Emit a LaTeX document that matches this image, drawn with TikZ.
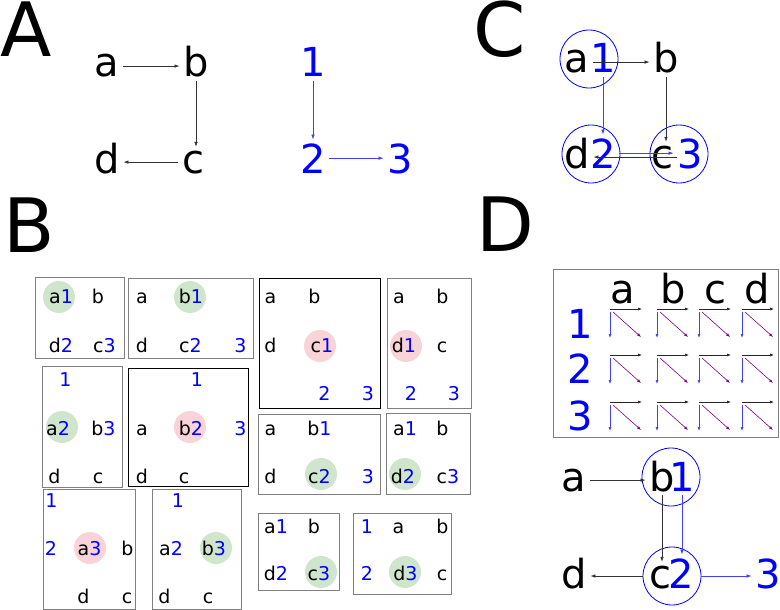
\documentclass[tikz,border=0pt]{standalone}
\usepackage{fontspec}
\setmainfont{DejaVu Sans}
\usetikzlibrary{arrows.meta}
\definecolor{gfill}{HTML}{CFE6CC}
\definecolor{rfill}{HTML}{F8D3D8}
\definecolor{bluearr}{HTML}{4040FF}
\definecolor{boxgray}{HTML}{808080}
\definecolor{purp}{HTML}{800080}
\begin{document}
\begin{tikzpicture}[x=1pt,y=-1pt,
 panel/.style={font=\fontsize{75}{75}\selectfont, anchor=base, inner sep=0pt},
 lt/.style={font=\fontsize{40}{40}\selectfont, anchor=base, inner sep=3.5pt},
 dg/.style={lt, text=blue},
 st/.style={font=\fontsize{19}{19}\selectfont, anchor=base, inner sep=0pt},
 sd/.style={st, text=blue},
 arr/.style={-{Latex[length=5pt,width=3.5pt]}, line width=0.7pt, draw=black!80},
 barr/.style={arr, draw=bluearr},
 marr/.style={-{Latex[length=4pt,width=3pt]}, line width=0.6pt, draw=black!85},
 mbarr/.style={marr, draw=bluearr},
 mparr/.style={marr, draw=purp},
 grp/.style={circle, draw=blue, line width=0.8pt, minimum size=58pt, inner sep=0pt},
 cell/.style={draw=boxgray, line width=0.8pt},
 cellk/.style={draw=black, line width=0.9pt},
 gdot/.style={circle, fill=gfill, minimum size=32pt, inner sep=0pt},
 rdot/.style={circle, fill=rfill, minimum size=32pt, inner sep=0pt},
]
\useasboundingbox (0,0) rectangle (780,610);

% ---------- panel labels
\node[panel] (LA) at (26,57) {A};
\node[panel] (LB) at (29,252) {B};
\node[panel] (LC) at (500,57) {C};
\node[panel] (LD) at (505,251) {D};

% ---------- panel A
\node[lt] (a) at (107,77) {a};
\node[lt] (b) at (196,77) {b};
\node[lt] (d) at (107,173) {d};
\node[lt] (c) at (193,173) {c};
\node[dg] (n1) at (313,77) {1};
\node[dg] (n2) at (313,173) {2};
\node[dg] (n3) at (400,173) {3};
\draw[arr] (a.east) -- (a.east -| b.west);
\draw[arr] (b.south) -- (b.south |- c.north);
\draw[arr] (c.west) -- (c.west -| d.east);
\draw[barr] (n1.south) -- (n2.north);
\draw[barr] (n2.east) -- (n2.east -| n3.west);

% ---------- panel C
\node[grp] (C1) at (589,59) {};
\node[grp] (C2) at (591,154) {};
\node[grp] (C3) at (679,154) {};
\node[lt] (ca) at (577,73) {a};
\node[dg] (c1) at (603,73) {1};
\node[lt] (cb) at (666,73) {b};
\node[lt] (cd) at (577,168) {d};
\node[dg] (c2) at (603,168) {2};
\node[lt] (cc) at (662,168) {c};
\node[dg] (c3) at (690,168) {3};
\draw[arr] (ca.east) -- (ca.east -| cb.west);
\draw[arr] (cb.south) -- (cb.south |- cc.north);
\draw[arr] (cc.east) -- (cc.east -| cd.east);
\draw[barr] (c1.south) -- (c2.north);
\draw[barr] (c2.east) -- (c2.east -| c3.west);

% ---------- panel B boxes
% box 1
\draw[cell] (35,277) rectangle (124,358);
\node[gdot] (g1) at (59,297) {};
\node[st] (b1p) at (61,303) {a\textcolor{blue}{1}};
\node[st] (b1b) at (98,303) {b};
\node[st] (b1d) at (61,352) {d\textcolor{blue}{2}};
\node[st] (b1c) at (104.5,352) {c\textcolor{blue}{3}};
% box 2
\draw[cell] (128,278) rectangle (253,358);
\node[gdot] (g2) at (190,297) {};
\node[st] (b2a) at (142,303) {a};
\node[st] (b2b) at (191,303) {b\textcolor{blue}{1}};
\node[st] (b2d) at (142,352) {d};
\node[st] (b2c) at (190.5,352) {c\textcolor{blue}{2}};
\node[sd] (b23) at (240.5,352) {3};
% box 3
\draw[cell] (42,366) rectangle (122,487);
\node[gdot] (g3) at (62,427) {};
\node[sd] (b31) at (65.5,386) {1};
\node[st] (b3a) at (58,435) {a\textcolor{blue}{2}};
\node[st] (b3b) at (103.5,435) {b\textcolor{blue}{3}};
\node[st] (b3d) at (54.5,483) {d};
\node[st] (b3c) at (98,483) {c};
% box 4
\draw[cellk] (128,368) rectangle (248,486);
\node[rdot] (r4) at (190,427) {};
\node[sd] (b41) at (197,386) {1};
\node[st] (b4a) at (142,435) {a};
\node[st] (b4b) at (191,435) {b\textcolor{blue}{2}};
\node[sd] (b43) at (240.5,435) {3};
\node[st] (b4d) at (142,483) {d};
\node[st] (b4c) at (184,483) {c};
% box 5
\draw[cellk] (259,278) rectangle (380,408);
\node[rdot] (r5) at (320,346) {};
\node[st] (b5a) at (270.5,303) {a};
\node[st] (b5b) at (314.5,303) {b};
\node[st] (b5d) at (270.5,352) {d};
\node[st] (b5c) at (322,352) {c\textcolor{blue}{1}};
\node[sd] (b52) at (324.5,400) {2};
\node[sd] (b53) at (368,400) {3};
% box 6
\draw[cell] (387,278) rectangle (471,408);
\node[rdot] (r6) at (406,346) {};
\node[st] (b6a) at (399,303) {a};
\node[st] (b6b) at (442.5,303) {b};
\node[st] (b6d) at (404,352) {d\textcolor{blue}{1}};
\node[st] (b6c) at (442,352) {c};
\node[sd] (b62) at (411,400) {2};
\node[sd] (b63) at (454,400) {3};
% box 7
\draw[cell] (258,414) rectangle (380,494);
\node[gdot] (g7) at (321,474) {};
\node[st] (b7a) at (270.5,435) {a};
\node[st] (b7b) at (319.5,435) {b\textcolor{blue}{1}};
\node[st] (b7d) at (270.5,483) {d};
\node[st] (b7c) at (319.5,483) {c\textcolor{blue}{2}};
\node[sd] (b73) at (368,483) {3};
% box 8
\draw[cell] (386,413) rectangle (470,494);
\node[gdot] (g8) at (405,474) {};
\node[st] (b8a) at (405,435) {a\textcolor{blue}{1}};
\node[st] (b8b) at (442.5,435) {b};
\node[st] (b8d) at (403,483) {d\textcolor{blue}{2}};
\node[st] (b8c) at (448,483) {c\textcolor{blue}{3}};
% box 9
\draw[cell] (43,489) rectangle (135,609);
\node[rdot] (r9) at (90,548) {};
\node[sd] (b91) at (51.5,507) {1};
\node[sd] (b92) at (51,555) {2};
\node[st] (b9a) at (89.5,555) {a\textcolor{blue}{3}};
\node[st] (b9b) at (127.5,555) {b};
\node[st] (b9d) at (83.5,603) {d};
\node[st] (b9c) at (127,603) {c};
% box 10
\draw[cell] (152,489) rectangle (241,609);
\node[gdot] (g10) at (216,548) {};
\node[sd] (b101) at (178,507) {1};
\node[st] (b10a) at (171,555) {a\textcolor{blue}{2}};
\node[st] (b10b) at (214,555) {b\textcolor{blue}{3}};
\node[st] (b10d) at (164.5,603) {d};
\node[st] (b10c) at (208,603) {c};
% box 11
\draw[cell] (258,513) rectangle (339,590);
\node[gdot] (g11) at (321,572) {};
\node[st] (b11a) at (276,533) {a\textcolor{blue}{1}};
\node[st] (b11b) at (314,533) {b};
\node[st] (b11d) at (276,580) {d\textcolor{blue}{2}};
\node[st] (b11c) at (319,580) {c\textcolor{blue}{3}};
% box 12
\draw[cell] (353,513) rectangle (451,594);
\node[gdot] (g12) at (405,572) {};
\node[sd] (b121) at (367,533) {1};
\node[st] (b12a) at (398.5,533) {a};
\node[st] (b12b) at (442.5,533) {b};
\node[sd] (b122) at (367,580) {2};
\node[st] (b12d) at (405.5,580) {d\textcolor{blue}{3}};
\node[st] (b12c) at (442,580) {c};

% ---------- panel D matrix
\draw[cell] (553,269) rectangle (778.5,437);
\node[lt] (ha) at (623,303) {a};
\node[lt] (hb) at (673,303) {b};
\node[lt] (hc) at (715,303) {c};
\node[lt] (hd) at (757,303) {d};
\node[dg] (r1) at (580,338) {1};
\node[dg] (r2) at (580,383) {2};
\node[dg] (r3) at (580,430) {3};
\foreach \cx in {610,657,699,742} {
  \foreach \cy in {309,355,402} {
    \draw[marr] (\cx,\cy) -- ++(32,0);
    \draw[mbarr] (\cx,\cy+3) -- ++(0,26);
    \draw[mparr] (\cx+3,\cy+3) -- (\cx+31,\cy+28);
  }
}

% ---------- panel D graph
\node[grp] (D1) at (671,477) {};
\node[grp] (D2) at (672,576) {};
\node[lt] (da) at (574,491) {a};
\node[lt] (db) at (662,491) {b};
\node[dg] (d1) at (682,491) {1};
\node[lt] (dd) at (574,588) {d};
\node[lt] (dc) at (660,588) {c};
\node[dg] (d2) at (681,588) {2};
\node[dg] (d3) at (768,588) {3};
\draw[arr] (da.east) -- (da.east -| db.west);
\draw[arr] (db.south) -- (db.south |- dc.north);
\draw[barr] (d1.south) -- (d1.south |- d2.north);
\draw[arr] (D2.west) -- (D2.west -| dd.east);
\draw[barr] (D2.east) -- (D2.east -| d3.west);
\end{tikzpicture}
\end{document}
